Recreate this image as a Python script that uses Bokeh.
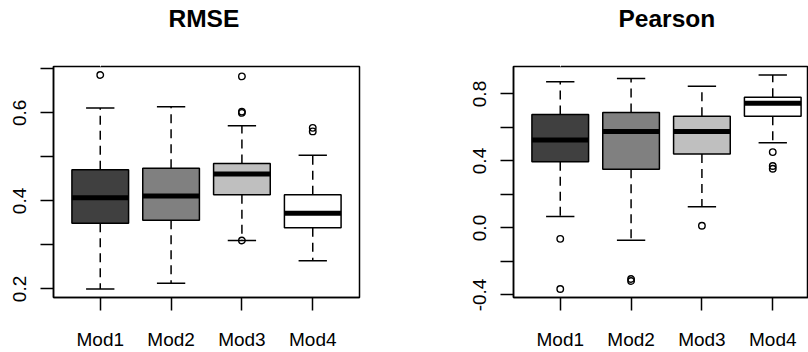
import numpy as np
from bokeh.plotting import figure
from bokeh.layouts import row
from bokeh.models import Range1d, FixedTicker, LinearAxis, Title
from bokeh.embed import file_html
from bokeh.resources import INLINE

models = ["Mod1", "Mod2", "Mod3", "Mod4"]
fills = ["#404040", "#808080", "#bfbfbf", "#ffffff"]

# RMSE box statistics (lower whisker, Q1, median, Q3, upper whisker)
rmse_low = [0.200, 0.213, 0.310, 0.264]
rmse_q1 = [0.349, 0.356, 0.414, 0.339]
rmse_med = [0.407, 0.411, 0.461, 0.372]
rmse_q3 = [0.471, 0.474, 0.485, 0.414]
rmse_high = [0.611, 0.614, 0.571, 0.504]
rmse_out_model = ["Mod1", "Mod3", "Mod3", "Mod3", "Mod3", "Mod4", "Mod4"]
rmse_out_value = [0.686, 0.683, 0.603, 0.600, 0.310, 0.566, 0.558]
rmse_ticks = [0.2, 0.3, 0.4, 0.5, 0.6, 0.7]
rmse_tick_labels = ["0.2", "", "0.4", "", "0.6", ""]

# Pearson box statistics
pear_low = [0.068, -0.073, 0.126, 0.509]
pear_q1 = [0.395, 0.350, 0.441, 0.667]
pear_med = [0.526, 0.576, 0.576, 0.745]
pear_q3 = [0.677, 0.689, 0.667, 0.780]
pear_high = [0.873, 0.893, 0.846, 0.913]
pear_out_model = ["Mod1", "Mod1", "Mod2", "Mod2", "Mod3", "Mod4", "Mod4", "Mod4"]
pear_out_value = [-0.065, -0.364, -0.305, -0.317, 0.013, 0.453, 0.370, 0.354]
pear_ticks = [-0.4, -0.2, 0.0, 0.2, 0.4, 0.6, 0.8]
pear_tick_labels = ["-0.4", "", "0.0", "", "0.4", "", "0.8"]

FONT = "Liberation Sans"


def panel(title, low, q1, med, q3, high, out_model, out_value, ticks, tick_labels,
          width, mb_left, mb_right, frame_w, title_offset):
    n = len(models)
    pos = np.arange(1, n + 1, dtype=float)
    x0 = 0.5 - 0.04 * n
    full = n * 1.08
    x1 = x0 + full * frame_w / 306.0
    allv = list(low) + list(high) + list(out_value)
    lo, hi = min(allv), max(allv)
    ext = 0.04 * (hi - lo)
    p = figure(width=width, height=352, output_backend="svg", toolbar_location=None,
               title=None,
               x_range=Range1d(x0, x1), y_range=Range1d(lo - ext, hi + ext),
               min_border_left=mb_left, min_border_right=mb_right,
               min_border_top=66, min_border_bottom=54)
    # invisible spacer that lifts the title away from the frame
    spacer = LinearAxis(ticker=FixedTicker(ticks=[float(pos[0])]), axis_line_color=None,
                        major_tick_line_color="white", minor_tick_line_color=None,
                        major_tick_out=35, major_tick_in=0, minor_tick_out=0,
                        major_label_standoff=0, major_label_text_font_size="0px",
                        major_label_text_color=None,
                        major_label_overrides={int(pos[0]): ""})
    p.add_layout(spacer, "above")
    ttl = Title(text=title, text_font=FONT, text_font_size="24.5px", text_font_style="bold",
                text_color="black", align="left", offset=title_offset, standoff=0)
    p.add_layout(ttl, "above")
    p.grid.visible = False
    p.background_fill_color = "white"
    p.border_fill_color = "white"
    p.outline_line_color = "black"
    p.outline_line_width = 1.5

    lw = 1.5
    # whiskers
    p.segment(x0=pos, y0=q3, x1=pos, y1=high, line_color="black", line_width=lw, line_dash="9 6")
    p.segment(x0=pos, y0=q1, x1=pos, y1=low, line_color="black", line_width=lw, line_dash="9 6")
    # caps
    p.segment(x0=pos - 0.2, y0=high, x1=pos + 0.2, y1=high, line_color="black", line_width=lw)
    p.segment(x0=pos - 0.2, y0=low, x1=pos + 0.2, y1=low, line_color="black", line_width=lw)
    # boxes
    p.vbar(x=pos, width=0.8, bottom=q1, top=q3, fill_color=fills, line_color="black", line_width=lw)
    # medians
    p.segment(x0=pos - 0.4, y0=med, x1=pos + 0.4, y1=med, line_color="black", line_width=5,
              line_cap="butt")
    # outliers
    ox = [models.index(m) + 1 for m in out_model]
    p.scatter(ox, out_value, marker="circle", size=6.5, fill_color=None, line_color="black",
              line_width=1.4)

    xa = p.below[0]
    xa.ticker = FixedTicker(ticks=list(pos))
    xa.major_label_overrides = {int(v): m for v, m in zip(pos, models)}
    ya = p.left[0]
    ya.ticker = FixedTicker(ticks=ticks)
    ya.major_label_overrides = {t: l for t, l in zip(ticks, tick_labels)}
    ya.major_label_orientation = "vertical"
    for ax in (xa, ya):
        ax.minor_tick_line_color = None
        ax.major_tick_in = 0
        ax.major_tick_out = 13
        ax.major_tick_line_width = lw
        ax.axis_line_width = lw
        ax.major_label_text_font = FONT
        ax.major_label_text_font_size = "19px"
        ax.major_label_text_color = "black"
    xa.major_label_standoff = 18
    ya.major_label_standoff = 14
    return p


left = panel("RMSE", rmse_low, rmse_q1, rmse_med, rmse_q3, rmse_high,
             rmse_out_model, rmse_out_value, rmse_ticks, rmse_tick_labels,
             width=404, mb_left=53, mb_right=45, frame_w=306, title_offset=115)
right = panel("Pearson", pear_low, pear_q1, pear_med, pear_q3, pear_high,
              pear_out_model, pear_out_value, pear_ticks, pear_tick_labels,
              width=404, mb_left=109, mb_right=0, frame_w=295, title_offset=105)

layout = row(left, right)
open("out.html", "w").write(file_html(layout, INLINE))
